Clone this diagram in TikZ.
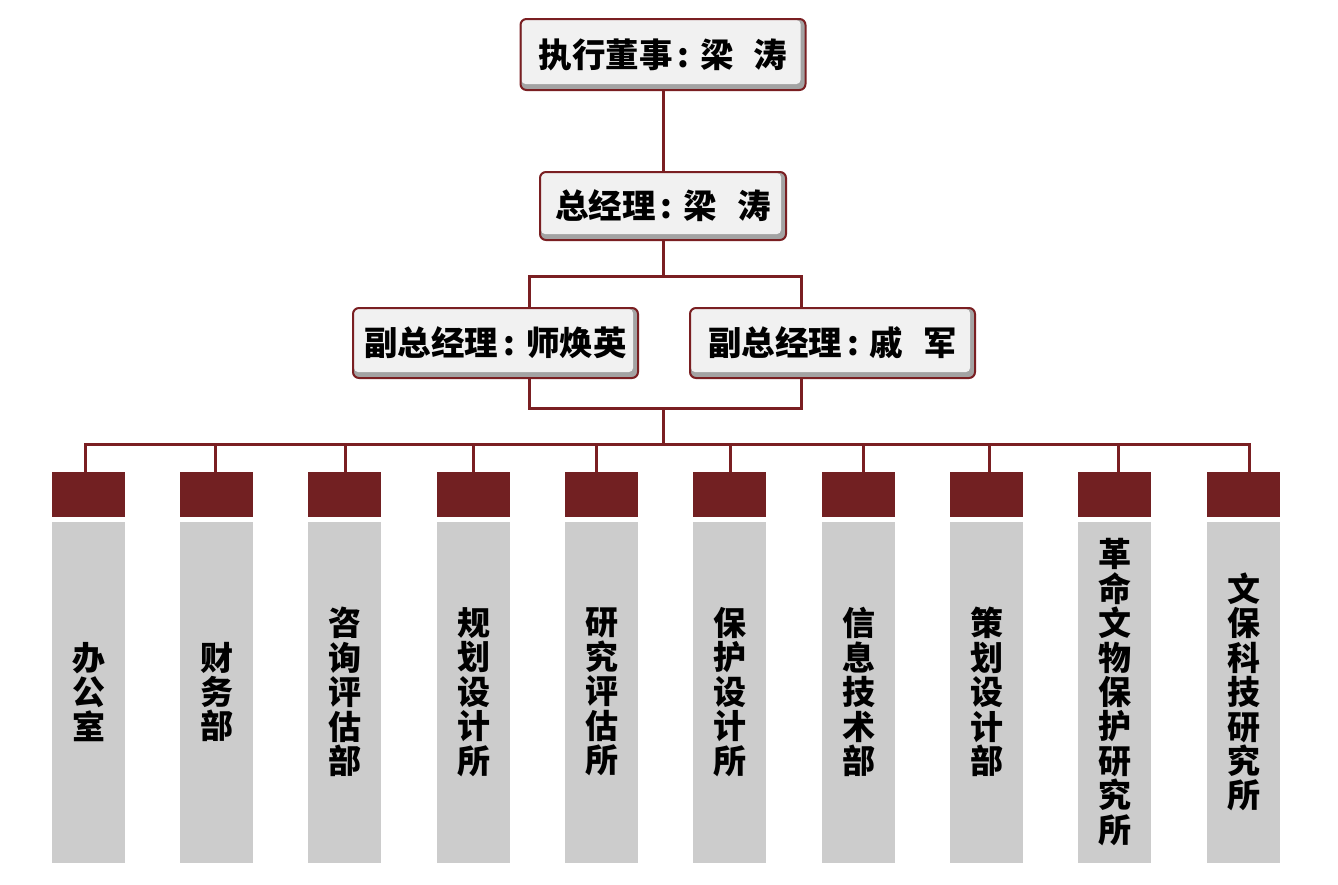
\documentclass[tikz,border=0pt]{standalone}
\usepackage{fontspec}
\newfontfamily\cjk{Noto Sans CJK SC}
\definecolor{hdred}{HTML}{722022}
\definecolor{lnred}{HTML}{7A1F22}
\definecolor{colgray}{HTML}{CCCCCC}
\definecolor{boxlight}{HTML}{F1F1F1}
\definecolor{bevel}{HTML}{A3A3A3}
\tikzset{
  topbox/.style={rectangle, rounded corners=6pt, draw=lnred, line width=2pt, fill=bevel,
    inner sep=0pt, font=\cjk\bfseries\fontsize{33.5}{36}\selectfont,
    path picture={\fill[boxlight, rounded corners=4pt]
      ([shift={(1pt,-1pt)}]path picture bounding box.north west) rectangle
      ([shift={(-5pt,6pt)}]path picture bounding box.south east);}},
  conn/.style={draw=lnred, line width=3pt},
  header/.style={rectangle, fill=hdred, minimum width=73pt, minimum height=45pt, inner sep=0pt},
  colbox/.style={rectangle, fill=colgray, minimum width=73pt, minimum height=341pt, inner sep=0pt,
    align=center, font=\cjk\bfseries\fontsize{33}{34.4}\selectfont},
}
\newcommand{\cln}{\hspace{5pt}:\hspace{11pt}}
\begin{document}
\begin{tikzpicture}[x=1pt,y=-1pt]
\useasboundingbox (0,0) rectangle (1338,884);
\fill[white] (0,0) rectangle (1338,884);

% top boxes
\node[topbox, minimum width=285pt, minimum height=71pt] (exec) at (663,54.5) {执行董事\cln 梁\hspace{20pt}涛};
\node[topbox, minimum width=246pt, minimum height=68pt] (gm) at (663,206) {总经理\cln 梁\hspace{20pt}涛};
\node[topbox, minimum width=285pt, minimum height=70pt] (vl) at (495.5,343) {副总经理\cln 师焕英};
\node[topbox, minimum width=285pt, minimum height=70pt] (vr) at (832.5,343) {副总经理\cln 戚\hspace{20pt}军};

% connector coordinates
\coordinate (jt) at (663,276);
\coordinate (vlt) at (529,276);
\coordinate (vrt) at (801,276);
\coordinate (vlb) at (529,408);
\coordinate (vrb) at (801,408);
\coordinate (jb) at (663,408);
\coordinate (bus) at (663,444);
\coordinate (busl) at (85,444);
\coordinate (busr) at (1249,444);

% columns
\foreach \i/\x/\t/\txt in {
  1/88.5/85/{办\\公\\室},
  2/216.5/215/{财\\务\\部},
  3/344.5/345/{咨\\询\\评\\估\\部},
  4/473.5/473/{规\\划\\设\\计\\所},
  5/601.5/596/{研\\究\\评\\估\\所},
  6/729.5/730/{保\\护\\设\\计\\所},
  7/858.5/863/{信\\息\\技\\术\\部},
  8/986.5/989/{策\\划\\设\\计\\部},
  9/1114.5/1118/{革\\命\\文\\物\\保\\护\\研\\究\\所},
  10/1243.5/1249/{文\\保\\科\\技\\研\\究\\所}}{
  \node[header] (h\i) at (\x,494.5) {};
  \node[colbox] (c\i) at (\x,692) {\txt};
  \coordinate (t\i) at (\t,444);
  \draw[conn] (t\i) -- (t\i |- h\i.north);
}

% connectors
\draw[conn] (exec.south) -- (gm.north);
\draw[conn] (gm.south) -- (jt);
\draw[conn, line join=miter] (vlt |- vl.north) -- (vlt) -- (vrt) -- (vrt |- vr.north);
\draw[conn, line join=miter] (vlb |- vl.south) -- (vlb) -- (vrb) -- (vrb |- vr.south);
\draw[conn] (jb) -- (bus);
\draw[conn, line cap=rect] (busl) -- (busr);
\end{tikzpicture}
\end{document}
